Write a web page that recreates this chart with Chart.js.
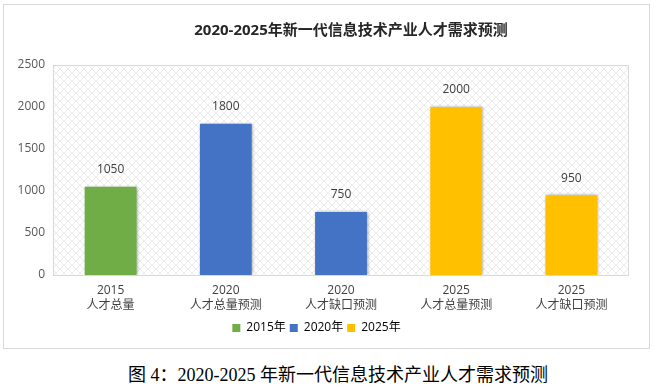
<!DOCTYPE html>
<html lang="zh-CN">
<head>
<meta charset="utf-8">
<title>2020-2025年新一代信息技术产业人才需求预测</title>
<script src="https://cdn.jsdelivr.net/npm/chart.js@4.4.1/dist/chart.umd.min.js"></script>
<style>
  body { margin: 0; background: #fff; width: 654px; height: 391px; position: relative; overflow: hidden; }
  #box { position: absolute; left: 3px; top: 4px; width: 647px; height: 345px; border: 1px solid #d9d9d9; box-sizing: border-box; }
  #caption { position: absolute; left: 128px; top: 364px; font: 18px/22px "Liberation Serif", "Noto Sans CJK SC", serif; color: #000; white-space: nowrap; }
</style>
</head>
<body>
<div id="box"><canvas id="talent-chart" width="645" height="343"></canvas></div>
<div id="caption">图 4：2020-2025 年新一代信息技术产业人才需求预测</div>
<script>
const chartTitle = '2020-2025年新一代信息技术产业人才需求预测';
const categories = [
  ['2015', '人才总量'],
  ['2020', '人才总量预测'],
  ['2020', '人才缺口预测'],
  ['2025', '人才总量预测'],
  ['2025', '人才缺口预测'],
];
const values = [1050, 1800, 750, 2000, 950];
const barYear = [0, 1, 1, 2, 2]; // which legend group each bar belongs to
const legendLabels = ['2015年', '2020年', '2025年'];
const yTicks = [0, 500, 1000, 1500, 2000, 2500];

const groupColors = ['#70AD47', '#4472C4', '#FFC000'];
const fontFamily = '"Open Sans", "Noto Sans CJK SC", sans-serif';

// light diamond hatch for the plot area
const makeHatch = () => {
  const c = document.createElement('canvas');
  c.width = 8;
  c.height = 8;
  const g = c.getContext('2d');
  g.fillStyle = '#fff';
  g.fillRect(0, 0, 8, 8);
  g.strokeStyle = '#ececec';
  g.lineWidth = 1;
  g.beginPath();
  g.moveTo(0, 8); g.lineTo(8, 0);
  g.moveTo(0, 0); g.lineTo(8, 8);
  g.stroke();
  return g.createPattern(c, 'repeat');
};

const plotBackground = {
  id: 'plotBackground',
  beforeDatasetsDraw(chart) {
    const { ctx, chartArea: a } = chart;
    ctx.save();
    ctx.fillStyle = makeHatch();
    ctx.fillRect(a.left, a.top, a.right - a.left, a.bottom - a.top);
    ctx.strokeStyle = '#d9d9d9';
    ctx.lineWidth = 1;
    ctx.strokeRect(a.left + 0.5, a.top + 0.5, a.right - a.left - 1, a.bottom - a.top);
    ctx.restore();
    // soft bar shadow like the office chart
    ctx.save();
    ctx.shadowColor = 'rgba(0,0,0,0.35)';
    ctx.shadowBlur = 3;
    ctx.shadowOffsetX = 1;
    ctx.shadowOffsetY = 0;
  },
  afterDatasetsDraw(chart) {
    chart.ctx.restore();
  },
};

const barValues = {
  id: 'barValues',
  afterDatasetsDraw(chart) {
    const { ctx } = chart;
    ctx.save();
    ctx.font = '12px ' + fontFamily;
    ctx.fillStyle = '#404040';
    ctx.textAlign = 'center';
    ctx.textBaseline = 'middle';
    chart.getDatasetMeta(0).data.forEach((bar, i) => {
      ctx.fillText(values[i], bar.x, bar.y - 17);
    });
    ctx.restore();
  },
};

const topTitle = {
  id: 'topTitle',
  afterDraw(chart) {
    const { ctx, chartArea } = chart;
    ctx.save();
    ctx.font = 'bold 15px ' + fontFamily;
    ctx.fillStyle = '#262626';
    ctx.textAlign = 'center';
    ctx.textBaseline = 'middle';
    ctx.fillText(chartTitle, (chartArea.left + chartArea.right) / 2 + 10, 26);
    ctx.restore();
  },
};

let talentChart = new Chart(document.getElementById('talent-chart'), {
  type: 'bar',
  data: {
    labels: categories,
    datasets: [
      {
        data: values,
        backgroundColor: barYear.map((g) => groupColors[g]),
        categoryPercentage: 1,
        barPercentage: 0.45,
      },
    ],
  },
  options: {
    responsive: false,
    animation: false,
    layout: { padding: { top: 60, right: 20, left: 0, bottom: 4 } },
    scales: {
      x: {
        grid: { display: false, drawTicks: false },
        border: { display: false },
        ticks: {
          color: '#404040',
          padding: 8,
          maxRotation: 0,
          font: { family: fontFamily, size: 12, lineHeight: 1.25 },
        },
        afterFit: (scale) => { scale.height = 43; },
      },
      y: {
        min: 0,
        max: 2500,
        afterBuildTicks: (scale) => { scale.ticks = yTicks.map((v) => ({ value: v })); },
        grid: { display: false, drawTicks: false },
        border: { display: false },
        ticks: {
          color: '#595959',
          padding: 8,
          font: { family: fontFamily, size: 12 },
          callback: (v) => String(v),
        },
        afterFit: (scale) => { scale.width = 49; },
      },
    },
    plugins: {
      title: { display: false },
      tooltip: { enabled: false },
      legend: {
        display: true,
        position: 'bottom',
        labels: {
          boxWidth: 8,
          boxHeight: 8,
          padding: 4,
          color: '#595959',
          font: { family: fontFamily, size: 12 },
          generateLabels: () => legendLabels.map((text, i) => ({
            text,
            fillStyle: groupColors[i],
            strokeStyle: groupColors[i],
            lineWidth: 0,
            hidden: false,
            datasetIndex: 0,
          })),
        },
      },
    },
  },
  plugins: [plotBackground, barValues, topTitle],
});
</script>
</body>
</html>
